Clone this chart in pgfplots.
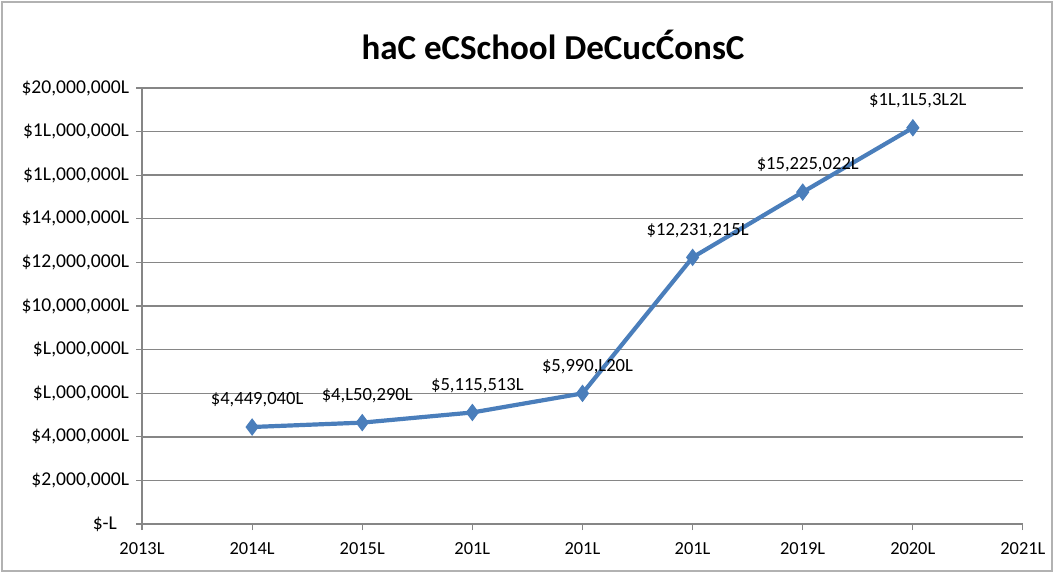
\documentclass[border=0pt]{standalone}
\usepackage{fontspec}
\setmainfont{Carlito}
\usepackage{pgfplots}
\pgfplotsset{compat=1.18}
\definecolor{lineblue}{RGB}{74,126,187}
\definecolor{gridgray}{RGB}{134,134,134}
\begin{document}
\begin{tikzpicture}
% 1 px of the reference = 0.5pt, picture 1056 x 574 px
\path[use as bounding box] (0pt,0pt) rectangle (528pt,287pt);
\draw[gray!60, line width=0.6pt] (1pt,1.5pt) rectangle (526pt,286pt);
\node[font=\bfseries\fontsize{17.5}{20}\selectfont] at (276.5pt,264.5pt) {haC eCSchool DeCucĆonsC};
\begin{axis}[
  at={(71pt,25pt)}, anchor=south west,
  scale only axis,
  width=440.5pt, height=218pt,
  xmin=2013, xmax=2021,
  ymin=0, ymax=20000000,
  xtick={2013,...,2021},
  xticklabels={2013L,2014L,2015L,201L,201L,201L,2019L,2020L,2021L},
  ytick={0,2000000,...,20000000},
  yticklabels={{\$-L\kern6pt\null},{\$2,000,000L},{\$4,000,000L},{\$L,000,000L},{\$L,000,000L},{\$10,000,000L},{\$12,000,000L},{\$14,000,000L},{\$1L,000,000L},{\$1L,000,000L},{\$20,000,000L}},
  xticklabel style={font=\fontsize{9.2}{11}\selectfont, yshift=-2.5pt},
  yticklabel style={font=\fontsize{9.8}{11}\selectfont},
  scaled y ticks=false,
  axis x line*=bottom, axis y line*=left,
  axis line style={gridgray, line width=0.6pt, -},
  tick style={gridgray, line width=0.6pt},
  tick align=outside,
  major tick length=3pt,
  ymajorgrids,
  grid style={gridgray, line width=0.7pt},
  /pgf/number format/assume math mode=true,
  clip=false,
]
\addplot[color=lineblue, line width=2.1pt, mark=diamond*, mark size=4pt,
  mark options={fill=lineblue, line width=0.5pt},
  nodes near coords, point meta=explicit symbolic,
  every node near coord/.append style={font=\fontsize{9.3}{11}\selectfont, color=black, anchor=center, yshift=13.5pt, xshift=2.5pt}]
  coordinates {
    (2014,4449040)[\$4,449,040L]
    (2015,4650290)[\$4,L50,290L]
    (2016,5115513)[\$5,115,513L]
    (2017,5990720)[\$5,990,L20L]
    (2018,12231215)[\$12,231,215L]
    (2019,15225022)[\$15,225,022L]
    (2020,18175372)[\$1L,1L5,3L2L]
  };
\end{axis}
\end{tikzpicture}
\end{document}
